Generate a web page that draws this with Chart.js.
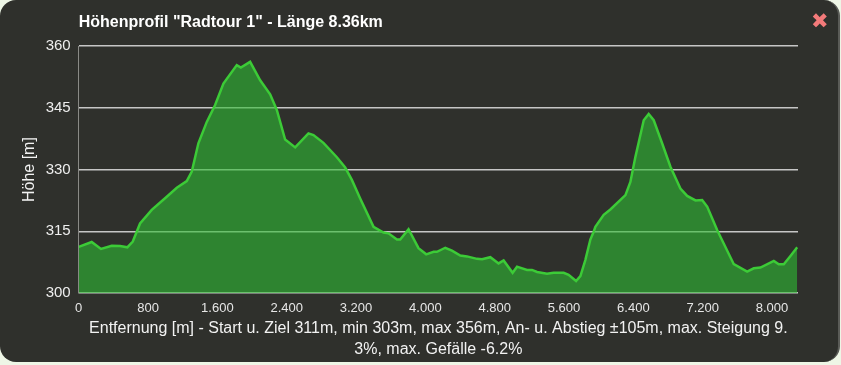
<!DOCTYPE html>
<html>
<head>
<meta charset="utf-8">
<script src="https://cdn.jsdelivr.net/npm/chart.js@4"></script>
<style>
  html, body { margin: 0; padding: 0; background: #eef6e6; }
  #box {
    position: absolute; left: 0; top: 0; width: 838px; height: 362px;
    background: #2f302c; border-radius: 16px;
    border-right: 2px solid #5a5b57;
  }
  #wrap { position: absolute; left: 0; top: 0; width: 841px; height: 365px; }
  #close {
    position: absolute; left: 811px; top: 9px; color: #f37a7a;
    font: bold 21px "DejaVu Sans", sans-serif; line-height: 24px;
  }
</style>
</head>
<body>
<div id="box"></div>
<div id="wrap"><canvas id="profile" width="841" height="365"></canvas></div>
<div id="close">✖</div>
<script>
// distance along the route [m]
const distances = [
  0, 150, 257, 381, 477, 561, 624, 708, 843, 1016, 1132, 1247, 1305, 1381, 1478, 1574,
  1670, 1824, 1871, 1978, 2094, 2209, 2286, 2382, 2498, 2651, 2709, 2824, 2979, 3075,
  3152, 3248, 3402, 3517, 3575, 3672, 3710, 3806, 3921, 4010, 4095, 4134, 4230, 4307,
  4403, 4480, 4596, 4654, 4750, 4845, 4903, 5007, 5058, 5173, 5231, 5289, 5404, 5480,
  5596, 5653, 5739, 5789, 5846, 5904, 5942, 5962, 6058, 6135, 6309, 6366, 6424, 6520,
  6577, 6635, 6732, 6828, 6943, 7021, 7117, 7194, 7252, 7367, 7559, 7713, 7790, 7867,
  8021, 8078, 8136, 8213, 8291
];
// elevation [m]
const heights = [
  311.2, 312.4, 310.7, 311.5, 311.4, 311.1, 312.5, 316.9, 320.2, 323.4, 325.6, 327.2, 329.5, 336.4, 341.6, 345.7,
  350.9, 355.4, 354.8, 356.2, 351.7, 348.3, 344.5, 337.3, 335.4, 338.8, 338.4, 336.5, 333.0, 330.5,
  327.5, 323.0, 316.1, 314.7, 314.5, 313.0, 313.0, 315.5, 310.9, 309.4, 310.0, 310.0, 311.0, 310.3,
  309.1, 308.9, 308.3, 308.2, 308.7, 307.2, 307.9, 304.9, 306.4, 305.6, 305.6, 305.1, 304.7, 304.9,
  304.9, 304.4, 302.9, 304.1, 308.0, 313.0, 314.9, 316.1, 319.0, 320.3, 323.8, 327.0, 333.1, 342.0,
  343.5, 342.0, 336.4, 330.7, 325.4, 323.6, 322.5, 322.6, 321.0, 315.3, 307.0, 305.2, 306.0, 306.2,
  307.8, 307.0, 307.0, 309.0, 311.1
];
const xTicks = [0, 800, 1600, 2400, 3200, 4000, 4800, 5600, 6400, 7200, 8000];
const yTicks = [300, 315, 330, 345, 360];

const chartTitle = 'Höhenprofil "Radtour 1" - Länge 8.36km';
const xTitle = [
  'Entfernung [m] - Start u. Ziel 311m, min 303m, max 356m, An- u. Abstieg ±105m, max. Steigung 9.',
  '3%, max. Gefälle -6.2%'
];
const yTitle = 'Höhe [m]';

const fontFamily = '"Liberation Sans", Arial, sans-serif';
const fmt = v => String(v).replace(/\B(?=(\d{3})+(?!\d))/g, '.');

const points = distances.map((d, i) => ({ x: d, y: heights[i] }));

new Chart(document.getElementById('profile'), {
  type: 'line',
  data: {
    datasets: [{
      data: points,
      borderColor: '#3ccb37',
      borderWidth: 2.5,
      backgroundColor: 'rgba(46, 188, 52, 0.6)',
      fill: 'start',
      tension: 0,
      pointRadius: 0
    }]
  },
  options: {
    responsive: false,
    animation: false,
    layout: { padding: { left: 0, right: 43, top: 0, bottom: 0 } },
    plugins: {
      legend: { display: false },
      tooltip: { enabled: false },
      title: {
        display: true,
        text: chartTitle,
        align: 'start',
        fullSize: false,
        color: '#ffffff',
        font: { family: fontFamily, size: 16, weight: 'bold' },
        padding: { top: 13, bottom: 14 }
      }
    },
    scales: {
      x: {
        type: 'linear',
        min: 0,
        max: 8300,
        afterFit: s => { s.height = 72; },
        afterBuildTicks: s => { s.ticks = xTicks.map(v => ({ value: v })); },
        grid: { display: false, drawTicks: false },
        border: { display: false },
        ticks: {
          includeBounds: false,
          color: '#e6e6e6',
          padding: 8,
          maxRotation: 0,
          font: { family: fontFamily, size: 13 },
          callback: v => fmt(v)
        },
        title: {
          display: true,
          text: xTitle,
          color: '#f2f2f2',
          font: { family: fontFamily, size: 16, lineHeight: 1.3 },
          padding: { top: 0, bottom: 5 }
        }
      },
      y: {
        min: 300,
        max: 360,
        afterFit: s => { s.width = 78.7; },
        afterBuildTicks: s => { s.ticks = yTicks.map(v => ({ value: v })); },
        grid: { color: 'rgba(215, 215, 215, 0.9)', lineWidth: 1.5, drawTicks: false },
        border: { display: true, color: '#8a8a86', width: 1 },
        ticks: {
          color: '#eeeeee',
          padding: 8,
          font: { family: fontFamily, size: 15 }
        },
        title: {
          display: true,
          text: yTitle,
          color: '#f2f2f2',
          font: { family: fontFamily, size: 16 },
          padding: { top: 20, bottom: 0 }
        }
      }
    }
  }
});
</script>
</body>
</html>
